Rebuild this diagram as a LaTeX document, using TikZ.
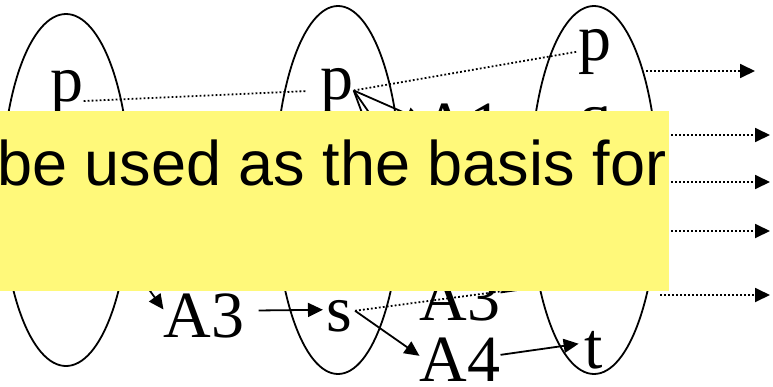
\documentclass[tikz,border=0pt]{standalone}
\usepackage{fontspec}
\setmainfont{Liberation Serif}
\newfontfamily\notefont{Liberation Sans}
\usepackage{tikz}
\usetikzlibrary{shapes.geometric, arrows.meta, positioning}
\definecolor{notebg}{RGB}{255,249,122}
\tikzset{
  layer/.style={draw, ellipse, line width=1.8pt, inner sep=0pt},
  lbl/.style={inner sep=0pt, anchor=base, font=\fontsize{66}{66}\selectfont},
  act/.style={-{Triangle[length=15pt,width=14pt]}, line width=1.8pt},
  noop/.style={line width=1.8pt, dash pattern=on 1.8pt off 2.2pt},
}

\begin{document}
\begin{tikzpicture}[x=1pt, y=-1pt]
            \useasboundingbox (0,0) rectangle (773,386);

            \node[layer, minimum width=128pt, minimum height=352pt] (layL) at (66,190) {};
            \node[layer, minimum width=126pt, minimum height=368pt] (layM) at (338,190) {};
            \node[layer, minimum width=128pt, minimum height=368pt] (layR) at (594,190) {};

            \node[lbl] (pL) at (67,101) {p};
            \node[lbl] (pM) at (337,99) {p};
            \node[lbl] (pR) at (595,60) {p};
            \node[lbl] (qR) at (595,138) {q};
            \node[lbl] (A1) at (462,147) {A1};
            \node[lbl] (A3L) at (204,337) {A3};
            \node[lbl] (sM) at (339,331) {s};
            \node[lbl] (A3R) at (460,320) {A3};
            \node[lbl] (A4) [below=17pt of A3R] {A4};
            \node[lbl] (sR) at (593,290) {s};
            \node[lbl] (tR) at (594,368) {t};

            % under the note
            \coordinate (qL) at (85,201);
            \coordinate (A2) at (430,200);

            \coordinate (o1) at (646,71);  \coordinate (e1) at (755,71);
            \coordinate (o2) at (655,135); \coordinate (e2) at (770,135);
            \coordinate (o3) at (655,182); \coordinate (e3) at (770,182);
            \coordinate (o4) at (655,231); \coordinate (e4) at (770,231);
            \coordinate (o5) at (660,295); \coordinate (e5) at (770,295);

            \path[act]
            (pM.east) edge ([yshift=5pt]A1.west)
            (pM.east) edge (A2)
            (pM.east) edge ([xshift=4pt,yshift=-3pt]A3R.north west)
            (qL) edge ([yshift=6pt]A3L.west)
            ([xshift=14pt,yshift=5pt]A3L.east) edge ([xshift=-3pt,yshift=6pt]sM.west)
            ([xshift=3pt,yshift=5pt]sM.east) edge ([yshift=4pt]A4.west)
            ([yshift=6pt]A3R.east) edge ([yshift=-6pt]sR.west)
            ([yshift=5pt]A4.east) edge ([xshift=-6pt,yshift=6pt]tR.west);

            \path[noop]
            (pL.base east) edge [shorten >=13pt] (pM.west)
            (pM.east) edge (pR.west)
            ([xshift=3pt,yshift=5pt]sM.east) edge ([yshift=-6pt]sR.west);

            \path[noop, -{Triangle[length=15pt,width=14pt]}]
            (o1) edge (e1)
            (o2) edge (e2)
            (o3) edge (e3)
            (o4) edge (e4)
            (o5) edge (e5);

            \node[fill=notebg, inner sep=0pt, anchor=north west, minimum width=669pt, minimum height=180pt] (note) at (0,111) {};
            \node[inner sep=0pt, anchor=base west, font=\notefont\fontsize{63}{63}\selectfont] (notetxt) at (-3,185) {be used as the basis for};

\end{tikzpicture}
\end{document}
